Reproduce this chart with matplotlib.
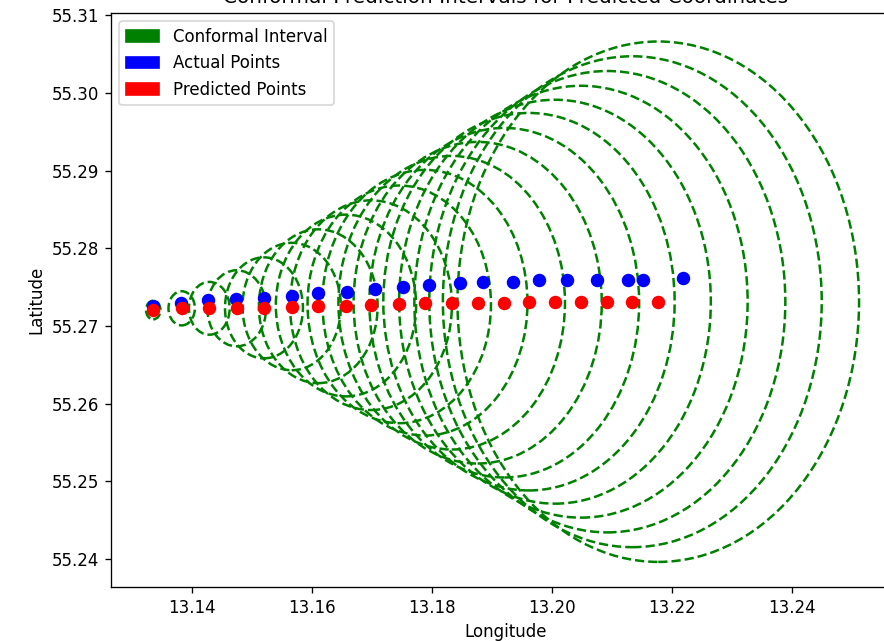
import matplotlib
matplotlib.use("Agg")
import matplotlib.pyplot as plt
from matplotlib.patches import Ellipse, Patch

# predicted coordinates (centres of the conformal circles)
pred_lon = [13.13349, 13.13823, 13.14284, 13.14741, 13.15196, 13.15658, 13.16102,
            13.16564, 13.16981, 13.17453, 13.17882, 13.18328, 13.18761, 13.19205,
            13.19617, 13.20051, 13.20485, 13.20924, 13.21341, 13.21774]
pred_lat = [55.27206, 55.27228, 55.27228, 55.27228, 55.27234, 55.27251, 55.27255,
            55.27264, 55.27268, 55.27279, 55.27300, 55.27300, 55.27300, 55.27300,
            55.27313, 55.27313, 55.27313, 55.27313, 55.27313, 55.27313]

# actual coordinates
act_lon = [13.13349, 13.13811, 13.14267, 13.14729, 13.15201, 13.15668, 13.16102,
           13.16576, 13.17048, 13.17510, 13.17954, 13.18466, 13.18855, 13.19355,
           13.19789, 13.20256, 13.20757, 13.21274, 13.21514, 13.22182]
act_lat = [55.27260, 55.27290, 55.27331, 55.27345, 55.27363, 55.27382, 55.27421,
           55.27441, 55.27472, 55.27506, 55.27528, 55.27550, 55.27570, 55.27570,
           55.27592, 55.27592, 55.27592, 55.27592, 55.27592, 55.27622]

# conformal interval radius (degrees) per step
radius = [0.0012, 0.0022, 0.0034, 0.0049, 0.0065, 0.0082, 0.0099, 0.0117, 0.0135, 0.0153,
          0.0171, 0.0189, 0.0207, 0.0225, 0.0243, 0.0260, 0.0278, 0.0297, 0.0316, 0.0335]

fig = plt.figure(figsize=(884 / 120, 641 / 120), dpi=120)
# the original screenshot cuts off the right side of the axes
ax = fig.add_axes([111 / 884, 54 / 641, 789 / 884, 574 / 641])

for x, y, r in zip(pred_lon, pred_lat, radius):
    ax.add_patch(Ellipse((x, y), width=2 * r, height=2 * r, fill=False,
                         edgecolor='green', linestyle='--', linewidth=1.5))

ax.scatter(act_lon, act_lat, color='blue', s=50, zorder=3)
ax.scatter(pred_lon, pred_lat, color='red', s=50, zorder=4)

ax.set_xlim(13.12644, 13.25807)
ax.set_ylim(55.2364, 55.3103)
ax.set_xlabel('Longitude')
ax.set_ylabel('Latitude')
ax.set_title('Conformal Prediction Intervals for Predicted Coordinates')

handles = [Patch(color='green', label='Conformal Interval'),
           Patch(color='blue', label='Actual Points'),
           Patch(color='red', label='Predicted Points')]
ax.legend(handles=handles, loc='upper left')

fig.savefig('out.png', dpi=120)
